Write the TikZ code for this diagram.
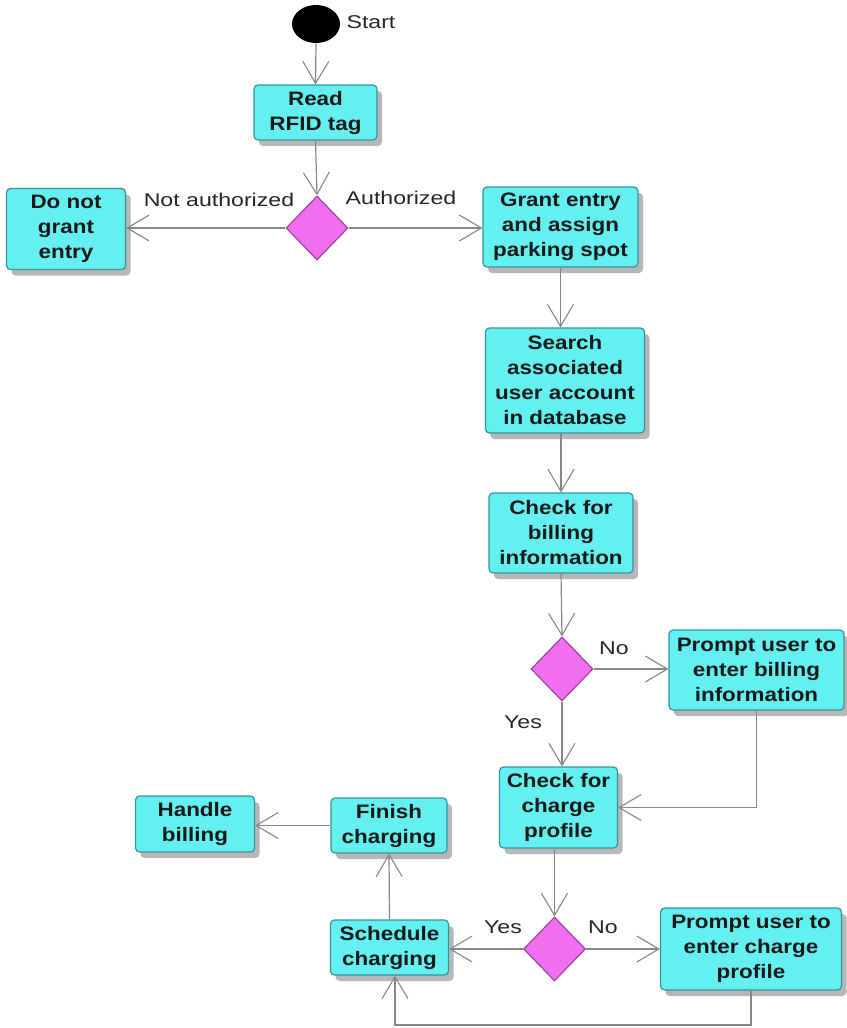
\documentclass[tikz,border=0pt]{standalone}
\usepackage{fontspec}
\setmainfont{Liberation Sans}[FakeStretch=1.15]
\newfontfamily\lblfont{Liberation Sans}[FakeStretch=1.25]
\usetikzlibrary{arrows.meta,shapes.geometric,shadows,calc}
\definecolor{boxfill}{RGB}{100,240,240}
\definecolor{boxdraw}{RGB}{50,150,155}
\definecolor{dfill}{RGB}{240,110,240}
\definecolor{ddraw}{RGB}{160,70,160}
\definecolor{linec}{RGB}{135,135,135}
\begin{document}
\begin{tikzpicture}[x=1pt,y=-1pt,
  act/.style={draw=boxdraw, line width=1.2pt, fill=boxfill, rounded corners=4pt, align=center,
    font=\fontsize{19.5}{25}\selectfont\bfseries, text=black!90, inner sep=0pt,
    drop shadow={shadow xshift=5pt, shadow yshift=-6pt, fill=black!40, opacity=0.7}},
  dec/.style={diamond, draw=ddraw, line width=1.2pt, fill=dfill, inner sep=0pt,
    minimum width=62pt, minimum height=64pt},
  flow/.style={draw=linec, line width=1.2pt, -{Straight Barb[length=22pt,width=26pt,line width=1.1pt]}},
  lbl/.style={font=\fontsize{18.5}{22}\selectfont\lblfont, text=black!85, inner sep=0pt}
]
\useasboundingbox (0,0) rectangle (846,1028);

\node[ellipse, fill=black, minimum width=48pt, minimum height=38pt, inner sep=0pt] (start) at (316,24) {};
\node[lbl] (startl) at (371,22) {Start};

\node[act, minimum width=123pt, minimum height=55pt] (read) at (315.5,112.5) {Read\\RFID tag};
\node[dec] (d1) at (317,228) {};
\node[act, minimum width=119pt, minimum height=81pt] (nogrant) at (66,229) {Do not\\grant\\entry};
\node[act, minimum width=155pt, minimum height=80pt] (grant) at (560.5,227) {Grant entry\\and assign\\parking spot};
\node[act, minimum width=159pt, minimum height=105pt] (search) at (565,380.5) {Search\\associated\\user account\\in database};
\node[act, minimum width=144pt, minimum height=80pt] (billing) at (561,533) {Check for\\billing\\information};
\node[dec] (d2) at (562,669) {};
\node[act, minimum width=175pt, minimum height=80pt] (promptb) at (756.5,670) {Prompt user to\\enter billing\\information};
\node[act, minimum width=118pt, minimum height=81pt] (charge) at (558.5,807.5) {Check for\\charge\\profile};
\node[dec] (d3) at (554.5,949) {};
\node[act, minimum width=181pt, minimum height=82pt] (promptc) at (751,949) {Prompt user to\\enter charge\\profile};
\node[act, minimum width=118pt, minimum height=55pt] (sched) at (389.5,947.5) {Schedule\\charging};
\node[act, minimum width=116pt, minimum height=55pt] (finish) at (389,825.5) {Finish\\charging};
\node[act, minimum width=119pt, minimum height=56pt] (handle) at (195,824) {Handle\\billing};

\node[lbl] (lna) at (219,200) {Not authorized};
\node[lbl] (la) at (401,198) {Authorized};
\node[lbl] (lno1) at (614,648) {No};
\node[lbl] (lyes1) at (523,722) {Yes};
\node[lbl] (lyes2) at (503,927) {Yes};
\node[lbl] (lno2) at (603,927) {No};

\coordinate (lp) at (395,1025);

\draw[flow] (start.south) -- (read.north);
\draw[flow] (read.south) -- (d1.north);
\draw[flow] (d1.west) -- (d1.west -| nogrant.east);
\draw[flow] (d1.east) -- (d1.east -| grant.west);
\draw[flow] (grant.south) -- (grant.south |- search.north);
\draw[flow] (billing.north |- search.south) -- (billing.north);
\draw[flow] (billing.south) -- (d2.north);
\draw[flow] (d2.east) -- (d2.east -| promptb.west);
\draw[flow] (d2.south) -- (d2.south |- charge.north);
\draw[flow] (promptb.south) |- (charge.east);
\draw[flow] (d3.north |- charge.south) -- (d3.north);
\draw[flow] (d3.west) -- (d3.west -| sched.east);
\draw[flow] (d3.east) -- (d3.east -| promptc.west);
\draw[flow] (promptc.south) |- (lp) -- (lp |- sched.south);
\draw[flow] (sched.north) -- (finish.south);
\draw[flow] (finish.west) -- (finish.west -| handle.east);
\end{tikzpicture}
\end{document}
